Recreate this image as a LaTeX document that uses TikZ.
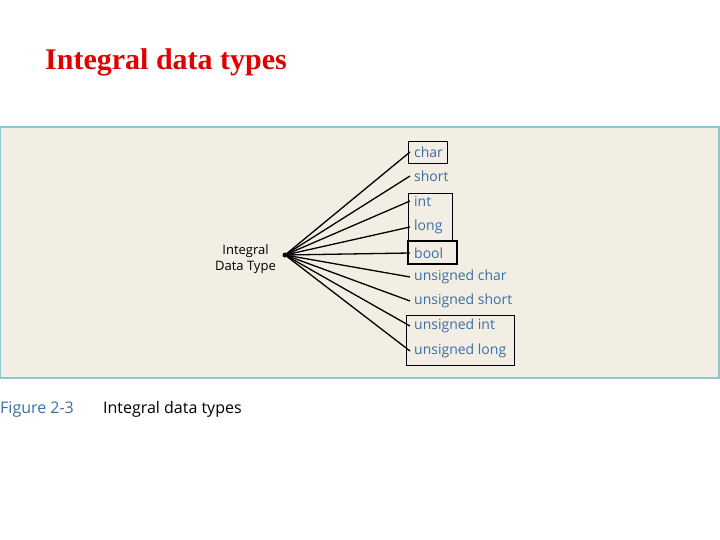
\documentclass[tikz,border=0pt]{standalone}
\usepackage{fontspec}
\setmainfont{Liberation Serif}
\newfontfamily\figfont{Open Sans}
\usetikzlibrary{positioning}
\definecolor{panelbg}{HTML}{F3EEE3}
\definecolor{panelrule}{HTML}{8CC8D0}
\definecolor{itemblue}{HTML}{3A6EA5}
\definecolor{titlered}{HTML}{E00000}
\begin{document}
\begin{tikzpicture}[x=1pt,y=-1pt,
item/.style={anchor=west,inner sep=0pt,text=itemblue,font=\figfont\fontsize{14}{16}\selectfont},
spoke/.style={draw,line width=1.3pt},
frame/.style={draw,line width=0.9pt}]
\useasboundingbox (0,0) rectangle (720,540);
\node (title) [anchor=base west,text=titlered,font=\bfseries\fontsize{30}{34}\selectfont,inner sep=0pt] at (45,70) {Integral data types};
\draw[fill=panelbg,draw=panelrule,line width=1.5pt] (0,127) rectangle (719,378);
\node (hub) [align=center,anchor=east,font=\figfont\fontsize{13}{16}\selectfont,inner sep=0pt] at (276,259) {Integral\\Data Type};
\coordinate (c) at (285,255);
% the nine integral types
\foreach \n/\y/\t in {a/152/char,b/176/short,c1/201/int,d/227/long,e/253/bool,
    f/277/unsigned char,g/301/unsigned short,h/326/unsigned int,i/351/unsigned long} {
  \node (\n) [item] at (414,\y) {\t};
  \draw[spoke] (c) -- ([xshift=-4pt]\n.west);
}
\fill (c) circle (2.5pt);
\draw[frame] (408,141) rectangle (447,163);
\draw[frame] (408,193) rectangle (452,240);
\draw[line width=2.2pt] (408,241) rectangle (457,264);
\draw[frame] (406,315) rectangle (514,365);
\node (cap) [anchor=base west,text=itemblue,font=\figfont\fontsize{16}{18}\selectfont,inner sep=0pt] at (0,413) {Figure 2-3};
\node (capt) [anchor=base west,font=\figfont\fontsize{16}{18}\selectfont,inner sep=0pt] at (103,413) {Integral data types};
\end{tikzpicture}
\end{document}
